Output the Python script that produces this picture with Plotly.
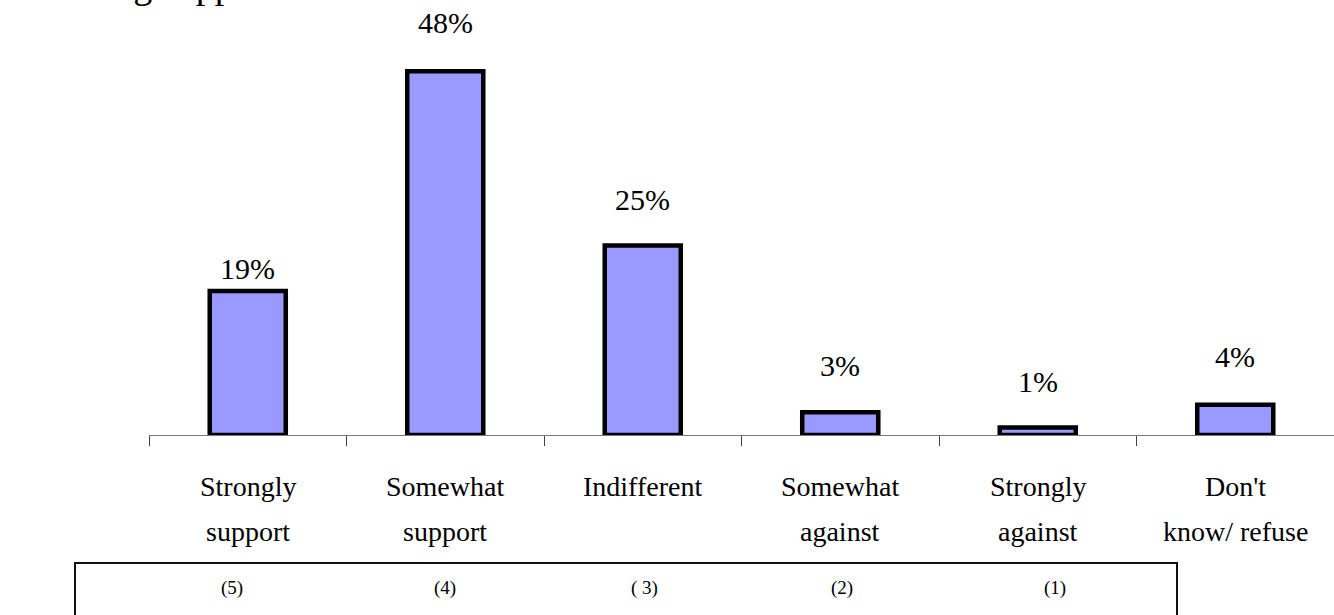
import plotly.graph_objects as go

# Survey responses
cat_top = ["Strongly", "Somewhat", "Indifferent", "Somewhat", "Strongly", "Don't"]
cat_bottom = ["support", "support", "", "against", "against", "know/ refuse"]
categories = [(a + " " + b).strip() for a, b in zip(cat_top, cat_bottom)]
shares = [19, 48, 25, 3, 1, 4]
scale_codes = ["(5)", "(4)", "( 3)", "(2)", "(1)"]

SERIF = "Liberation Serif, Times New Roman, serif"

fig = go.Figure()
fig.add_trace(go.Bar(
    x=categories,
    y=shares,
    marker=dict(color="#9999FF", line=dict(color="#000000", width=4.5)),
    hoverinfo="skip",
))

# value labels above each bar (pixel lift per label)
label_lift = [23, 49, 46, 47, 46, 48]
for cat, v, lift in zip(categories, shares, label_lift):
    fig.add_annotation(x=cat, y=v, xref="x", yref="y", text=f"{v}%",
                       showarrow=False, yanchor="middle", yshift=lift,
                       font=dict(family=SERIF, size=30, color="#000"))

# two-line category labels under the axis
for cat, top, bottom in zip(categories, cat_top, cat_bottom):
    fig.add_annotation(x=cat, y=0, xref="x", yref="paper", text=top,
                       showarrow=False, yanchor="middle", yshift=-51,
                       font=dict(family=SERIF, size=28, color="#000"))
    if bottom:
        fig.add_annotation(x=cat, y=0, xref="x", yref="paper", text=bottom,
                           showarrow=False, yanchor="middle", yshift=-96,
                           font=dict(family=SERIF, size=28, color="#000"))

# scale codes inside the lower box
code_shift = [-16, 0, 2, 2, 17]
for cat, code, dx in zip(categories, scale_codes, code_shift):
    fig.add_annotation(x=cat, y=0, xref="x", yref="paper", text=code,
                       showarrow=False, yanchor="middle", yshift=-153, xshift=dx,
                       font=dict(family=SERIF, size=19, color="#000"))

fig.add_shape(type="rect", xref="paper", yref="paper",
              x0=(75 - 149) / 1185, x1=(1177 - 149) / 1185,
              y0=-0.5, y1=-(563 - 435) / 435,
              line=dict(color="#111111", width=2), fillcolor="rgba(0,0,0,0)")

# title, largely above the visible page
fig.add_annotation(x=0, y=1, xref="paper", yref="paper", text="Strong support",
                   showarrow=False, xanchor="left", yanchor="bottom",
                   xshift=-100, yshift=-8,
                   font=dict(family=SERIF, size=38, color="#000"))

fig.update_xaxes(
    type="category", range=[-0.5, 5.5], showticklabels=False,
    tickson="boundaries", ticks="outside", ticklen=10, tickcolor="#444",
    showline=True, linecolor="#777", linewidth=1, showgrid=False, zeroline=False,
)
fig.update_yaxes(range=[0, 57.4], visible=False)

fig.update_layout(
    width=1334, height=615,
    margin=dict(l=149, r=0, t=0, b=180),
    bargap=0.615,
    plot_bgcolor="white", paper_bgcolor="white",
    showlegend=False,
)

fig.write_html("out.html")
